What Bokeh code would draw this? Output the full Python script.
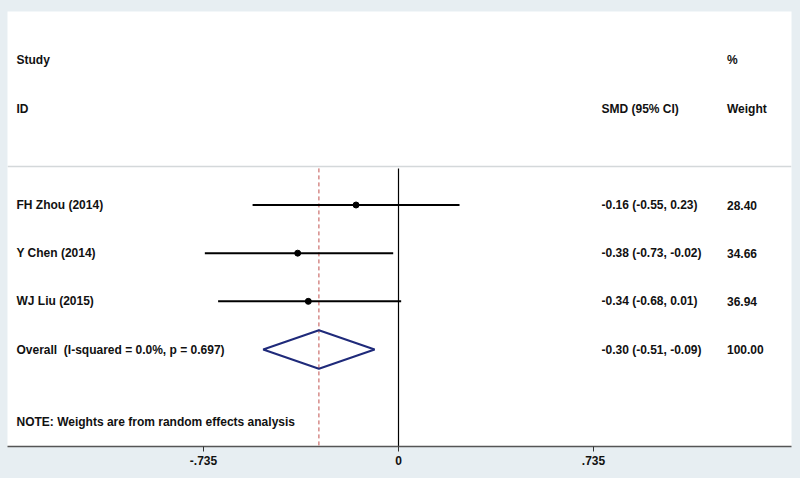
from bokeh.plotting import figure
from bokeh.models import Range1d, FixedTicker, ColumnDataSource
from bokeh.core.properties import value
from bokeh.embed import file_html
from bokeh.resources import INLINE

# ---- data ----
studies = ["FH Zhou (2014)", "Y Chen (2014)", "WJ Liu (2015)"]
smd = [-0.16, -0.38, -0.34]
ci_low = [-0.55, -0.73, -0.68]
ci_high = [0.23, -0.02, 0.01]
weights = [28.40, 34.66, 36.94]
overall_est = -0.30
overall_low = -0.51
overall_high = -0.09
overall_weight = 100.00
i_squared = 0.0
p_het = 0.697
tick_values = [-0.735, 0.0, 0.735]
tick_labels = ["-.735", "0", ".735"]

FONT = value("Liberation Sans")
OUTER = "#e7eef2"

# row layout (slot index: 0 Study, 1 ID, 3.. studies)
first_row = 3
study_rows = [first_row + i for i in range(len(studies))]
overall_row = first_row + len(studies)
note_row = overall_row + 1.5
sep_row = 2.2
line_top = 2.24
X0, X1 = -1.4738, 1.4813
Y_BOTTOM, Y_TOP = 8.013, -1.017

p = figure(width=800, height=478,
           x_range=Range1d(X0, X1), y_range=Range1d(Y_BOTTOM, Y_TOP),
           output_backend="svg", toolbar_location=None, y_axis_type=None,
           min_border_left=7, min_border_right=9, min_border_top=11, min_border_bottom=32)
p.background_fill_color = "white"
p.border_fill_color = OUTER
p.outline_line_color = None
p.xgrid.visible = False
p.ygrid.visible = False

ax = p.xaxis[0]
ax.ticker = FixedTicker(ticks=tick_values)
ax.major_label_overrides = {v: l for v, l in zip(tick_values, tick_labels)}
ax.axis_line_color = "#555555"
ax.axis_line_width = 1.5
ax.major_tick_line_color = "#333333"
ax.major_tick_in = 0
ax.major_tick_out = 5
ax.minor_tick_line_color = None
ax.major_label_text_font = "Liberation Sans"
ax.major_label_text_font_style = "bold"
ax.major_label_text_font_size = "12px"
ax.major_label_text_color = "#111111"
ax.major_label_standoff = 4

# separator line
p.segment(x0=[X0], x1=[X1], y0=[sep_row], y1=[sep_row], line_color="#d4d8da", line_width=1.5)

# vertical no-effect line and overall dashed line
p.segment(x0=[0], x1=[0], y0=[line_top], y1=[Y_BOTTOM], line_color="black", line_width=1.2)
p.segment(x0=[overall_est], x1=[overall_est], y0=[line_top], y1=[Y_BOTTOM],
          line_color="#c0504d", line_width=1, line_dash="4 3")

# study CIs and points
src = ColumnDataSource(dict(y=study_rows, est=smd, lo=ci_low, hi=ci_high))
p.segment(x0="lo", x1="hi", y0="y", y1="y", source=src, line_color="black", line_width=2)
p.scatter(x="est", y="y", source=src, size=6, color="black")

# overall diamond
p.patch(x=[overall_low, overall_est, overall_high, overall_est, overall_low],
        y=[overall_row, overall_row - 0.4, overall_row, overall_row + 0.4, overall_row],
        fill_color="white", fill_alpha=0, line_color="#1f2a7a", line_width=2)

# texts
def txt(xs, ys, texts, align="left"):
    p.text(x=xs, y=ys, text=texts, text_font=FONT, text_font_style="bold",
           text_font_size="12px", text_baseline="middle", text_align=align,
           text_color="#111111")

xl, xc, xw = -1.44, 0.765, 1.238
txt([xl, xl], [0, 1], ["Study", "ID"])
txt([xw, xw], [0, 1], ["%", "Weight"])
txt([xc], [1], ["SMD (95% CI)"])
txt([xl] * len(studies), study_rows, studies)
txt([xc] * len(studies), study_rows,
    [f"{e:.2f} ({l:.2f}, {h:.2f})" for e, l, h in zip(smd, ci_low, ci_high)])
txt([xw] * len(studies), study_rows, [f"{w:.2f}" for w in weights])
txt([xl], [overall_row], [f"Overall\u00a0 (I-squared = {i_squared:.1f}%, p = {p_het:.3f})"])
txt([xc], [overall_row], [f"{overall_est:.2f} ({overall_low:.2f}, {overall_high:.2f})"])
txt([xw], [overall_row], [f"{overall_weight:.2f}"])
txt([xl], [note_row], ["NOTE: Weights are from random effects analysis"])

tmpl = ("{% block preamble %}<style>html, body {margin: 0; padding: 0; overflow: hidden; background: "
        + OUTER + ";}</style>{% endblock %}")
html = file_html(p, INLINE, title="Forest plot", template=tmpl)
open("out.html", "w").write(html)
